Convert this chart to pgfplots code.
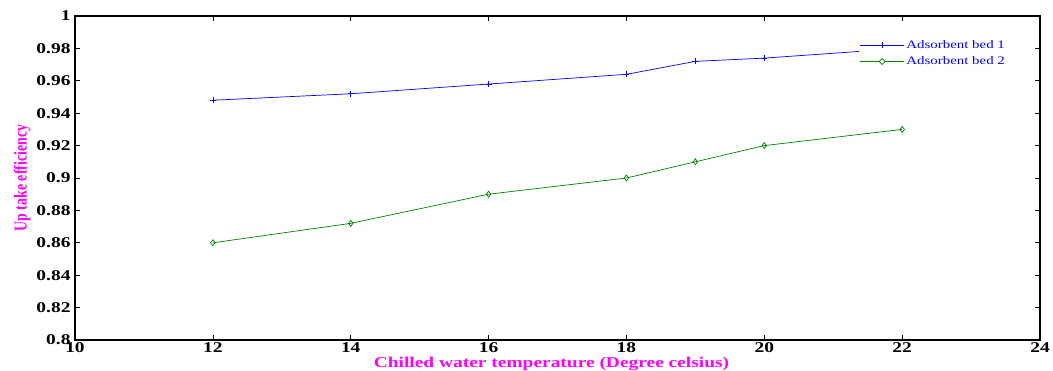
\documentclass[border=0pt]{standalone}
\usepackage{pgfplots}
\pgfplotsset{compat=1.18}
\usepackage{fontspec}
\setmainfont{Liberation Serif}[FakeStretch=1.3]
\newfontfamily\plainserif{Liberation Serif}
\definecolor{mblue}{rgb}{0,0,1}
\definecolor{mgreen}{rgb}{0,0.5,0}
\definecolor{mmag}{rgb}{1,0,1}
\begin{document}
\begin{tikzpicture}
\path[use as bounding box] (-75bp,-31bp) rectangle (978bp,340bp);
\begin{axis}[
  at={(0,0)}, anchor=south west,
  scale only axis, width=965bp, height=324bp,
  xmin=10, xmax=24, ymin=0.8, ymax=1,
  xtick={10,12,...,24},
  ytick={0.8,0.82,...,1.001},
  tick align=inside, major tick length=5bp,
  axis line style={line width=1.1bp},
  every tick/.style={black, line width=0.6bp},
  /pgf/number format/assume math mode=true,
  /pgf/number format/fixed, /pgf/number format/precision=2,
  ticklabel style={font=\fontsize{15}{15}\selectfont\bfseries},
  xticklabel style={yshift=1bp},
  yticklabel style={xshift=-1bp},
  xlabel={\fontsize{15}{15}\selectfont\bfseries Chilled water temperature (Degree celsius)},
  xlabel style={color=mmag, yshift=2bp, xshift=-6bp},
  ylabel={\scalebox{1}[1.3]{\plainserif\fontsize{14}{14}\selectfont\bfseries Up take efficiency}},
  ylabel style={color=mmag, yshift=-1bp},
  legend style={draw=white, fill=white, at={(0.812,0.935)}, anchor=north west,
    font=\fontsize{11.5}{13}\selectfont, text=mblue,
    row sep=3bp, inner sep=1bp},
  legend cell align=left,
]
% legend samples: 44bp lines with one mark in the middle
\addlegendimage{color=mblue, line width=0.7bp, mark=+, mark size=3bp,
  legend image code/.code={\draw[color=mblue, line width=0.7bp] (0bp,0bp) -- (44bp,0bp);
    \draw[color=mblue, line width=0.7bp] (19bp,0bp) -- (25bp,0bp) (22bp,-3bp) -- (22bp,3bp);}}
\addlegendentry{Adsorbent bed 1}
\addlegendimage{color=mgreen, line width=0.7bp,
  legend image code/.code={\draw[color=mgreen, line width=0.7bp] (0bp,0bp) -- (44bp,0bp);
    \draw[color=mgreen, fill=white, line width=0.7bp] (19bp,0bp) -- (22bp,3bp) -- (25bp,0bp) -- (22bp,-3bp) -- cycle;}}
\addlegendentry{Adsorbent bed 2}
\addplot[forget plot, color=mblue, line width=0.7bp, mark=+, mark size=3bp, mark options={line width=0.7bp}]
coordinates {(12,0.948) (14,0.952) (16,0.958) (18,0.964) (19,0.972) (20,0.974) (22,0.980)};
\addplot[forget plot, color=mgreen, line width=0.7bp, mark=diamond, mark size=3bp, mark options={line width=0.7bp}]
coordinates {(12,0.860) (14,0.872) (16,0.890) (18,0.900) (19,0.910) (20,0.920) (22,0.930)};
\end{axis}
\end{tikzpicture}
\end{document}
